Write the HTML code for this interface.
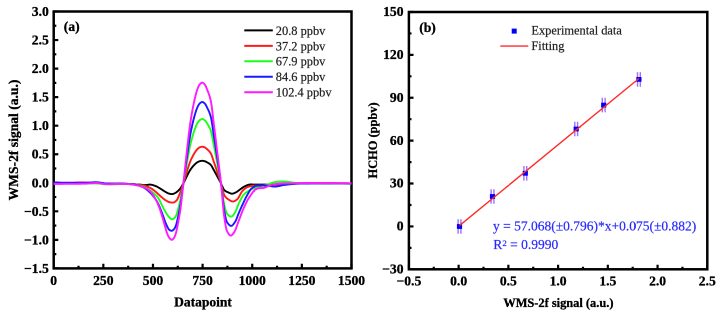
<!DOCTYPE html>
<html><head><meta charset="utf-8"><style>
html,body{margin:0;padding:0;background:#fff;overflow:hidden;}
svg{display:block;}
#c{width:720px;height:314px;overflow:hidden;position:relative;}
#w{width:1440px;height:628px;transform-origin:0 0;transform:scale(0.5);will-change:transform;}
</style></head><body>
<div id="c"><div id="w"><svg width="1440" height="628" viewBox="0 0 720 314">
<rect x="53.7" y="11.5" width="297.8" height="256.9" fill="none" stroke="#000" stroke-width="2.5"/>
<rect x="408.9" y="12.0" width="298.4" height="257.3" fill="none" stroke="#000" stroke-width="2.5"/>
<path d="M53.70,268.4 V263.80 M78.52,268.4 V265.80 M103.33,268.4 V263.80 M128.15,268.4 V265.80 M152.97,268.4 V263.80 M177.78,268.4 V265.80 M202.60,268.4 V263.80 M227.42,268.4 V265.80 M252.23,268.4 V263.80 M277.05,268.4 V265.80 M301.87,268.4 V263.80 M326.68,268.4 V265.80 M351.50,268.4 V263.80 M53.7,268.40 H58.30 M53.7,254.13 H56.30 M53.7,239.86 H58.30 M53.7,225.58 H56.30 M53.7,211.31 H58.30 M53.7,197.04 H56.30 M53.7,182.77 H58.30 M53.7,168.49 H56.30 M53.7,154.22 H58.30 M53.7,139.95 H56.30 M53.7,125.68 H58.30 M53.7,111.41 H56.30 M53.7,97.13 H58.30 M53.7,82.86 H56.30 M53.7,68.59 H58.30 M53.7,54.32 H56.30 M53.7,40.04 H58.30 M53.7,25.77 H56.30 M53.7,11.50 H58.30 M408.90,269.3 V264.70 M433.77,269.3 V266.70 M458.63,269.3 V264.70 M483.50,269.3 V266.70 M508.37,269.3 V264.70 M533.23,269.3 V266.70 M558.10,269.3 V264.70 M582.97,269.3 V266.70 M607.83,269.3 V264.70 M632.70,269.3 V266.70 M657.57,269.3 V264.70 M682.43,269.3 V266.70 M707.30,269.3 V264.70 M408.9,269.30 H413.50 M408.9,247.86 H411.50 M408.9,226.42 H413.50 M408.9,204.97 H411.50 M408.9,183.53 H413.50 M408.9,162.09 H411.50 M408.9,140.65 H413.50 M408.9,119.21 H411.50 M408.9,97.77 H413.50 M408.9,76.33 H411.50 M408.9,54.88 H413.50 M408.9,33.44 H411.50 M408.9,12.00 H413.50" stroke="#000" stroke-width="2.2" fill="none"/>
<text x="53.70" y="285.1" font-family="Liberation Serif"  stroke="#000" stroke-width="0.3" font-weight="bold" font-size="13.6" text-anchor="middle">0</text>
<text x="103.33" y="285.1" font-family="Liberation Serif"  stroke="#000" stroke-width="0.3" font-weight="bold" font-size="13.6" text-anchor="middle">250</text>
<text x="152.97" y="285.1" font-family="Liberation Serif"  stroke="#000" stroke-width="0.3" font-weight="bold" font-size="13.6" text-anchor="middle">500</text>
<text x="202.60" y="285.1" font-family="Liberation Serif"  stroke="#000" stroke-width="0.3" font-weight="bold" font-size="13.6" text-anchor="middle">750</text>
<text x="252.23" y="285.1" font-family="Liberation Serif"  stroke="#000" stroke-width="0.3" font-weight="bold" font-size="13.6" text-anchor="middle">1000</text>
<text x="301.87" y="285.1" font-family="Liberation Serif"  stroke="#000" stroke-width="0.3" font-weight="bold" font-size="13.6" text-anchor="middle">1250</text>
<text x="351.50" y="285.1" font-family="Liberation Serif"  stroke="#000" stroke-width="0.3" font-weight="bold" font-size="13.6" text-anchor="middle">1500</text>
<text x="48.8" y="16.00" font-family="Liberation Serif"  stroke="#000" stroke-width="0.3" font-weight="bold" font-size="13.6" text-anchor="end">3.0</text>
<text x="48.8" y="44.54" font-family="Liberation Serif"  stroke="#000" stroke-width="0.3" font-weight="bold" font-size="13.6" text-anchor="end">2.5</text>
<text x="48.8" y="73.09" font-family="Liberation Serif"  stroke="#000" stroke-width="0.3" font-weight="bold" font-size="13.6" text-anchor="end">2.0</text>
<text x="48.8" y="101.63" font-family="Liberation Serif"  stroke="#000" stroke-width="0.3" font-weight="bold" font-size="13.6" text-anchor="end">1.5</text>
<text x="48.8" y="130.18" font-family="Liberation Serif"  stroke="#000" stroke-width="0.3" font-weight="bold" font-size="13.6" text-anchor="end">1.0</text>
<text x="48.8" y="158.72" font-family="Liberation Serif"  stroke="#000" stroke-width="0.3" font-weight="bold" font-size="13.6" text-anchor="end">0.5</text>
<text x="48.8" y="187.27" font-family="Liberation Serif"  stroke="#000" stroke-width="0.3" font-weight="bold" font-size="13.6" text-anchor="end">0.0</text>
<text x="48.8" y="215.81" font-family="Liberation Serif"  stroke="#000" stroke-width="0.3" font-weight="bold" font-size="13.6" text-anchor="end">−0.5</text>
<text x="48.8" y="244.36" font-family="Liberation Serif"  stroke="#000" stroke-width="0.3" font-weight="bold" font-size="13.6" text-anchor="end">−1.0</text>
<text x="48.8" y="272.90" font-family="Liberation Serif"  stroke="#000" stroke-width="0.3" font-weight="bold" font-size="13.6" text-anchor="end">−1.5</text>
<text x="408.90" y="285.5" font-family="Liberation Serif"  stroke="#000" stroke-width="0.3" font-weight="bold" font-size="13.6" text-anchor="middle">−0.5</text>
<text x="458.63" y="285.5" font-family="Liberation Serif"  stroke="#000" stroke-width="0.3" font-weight="bold" font-size="13.6" text-anchor="middle">0.0</text>
<text x="508.37" y="285.5" font-family="Liberation Serif"  stroke="#000" stroke-width="0.3" font-weight="bold" font-size="13.6" text-anchor="middle">0.5</text>
<text x="558.10" y="285.5" font-family="Liberation Serif"  stroke="#000" stroke-width="0.3" font-weight="bold" font-size="13.6" text-anchor="middle">1.0</text>
<text x="607.83" y="285.5" font-family="Liberation Serif"  stroke="#000" stroke-width="0.3" font-weight="bold" font-size="13.6" text-anchor="middle">1.5</text>
<text x="657.57" y="285.5" font-family="Liberation Serif"  stroke="#000" stroke-width="0.3" font-weight="bold" font-size="13.6" text-anchor="middle">2.0</text>
<text x="707.30" y="285.5" font-family="Liberation Serif"  stroke="#000" stroke-width="0.3" font-weight="bold" font-size="13.6" text-anchor="middle">2.5</text>
<text x="403.5" y="16.10" font-family="Liberation Serif"  stroke="#000" stroke-width="0.3" font-weight="bold" font-size="13.6" text-anchor="end">150</text>
<text x="403.5" y="58.98" font-family="Liberation Serif"  stroke="#000" stroke-width="0.3" font-weight="bold" font-size="13.6" text-anchor="end">120</text>
<text x="403.5" y="101.87" font-family="Liberation Serif"  stroke="#000" stroke-width="0.3" font-weight="bold" font-size="13.6" text-anchor="end">90</text>
<text x="403.5" y="144.75" font-family="Liberation Serif"  stroke="#000" stroke-width="0.3" font-weight="bold" font-size="13.6" text-anchor="end">60</text>
<text x="403.5" y="187.63" font-family="Liberation Serif"  stroke="#000" stroke-width="0.3" font-weight="bold" font-size="13.6" text-anchor="end">30</text>
<text x="403.5" y="230.52" font-family="Liberation Serif"  stroke="#000" stroke-width="0.3" font-weight="bold" font-size="13.6" text-anchor="end">0</text>
<text x="403.5" y="273.40" font-family="Liberation Serif"  stroke="#000" stroke-width="0.3" font-weight="bold" font-size="13.6" text-anchor="end">−30</text>
<text x="203" y="306.7" font-family="Liberation Serif"  stroke="#000" stroke-width="0.3" font-weight="bold" font-size="13.5" text-anchor="middle">Datapoint</text>
<text transform="translate(17.8,140.0) rotate(-90)" font-family="Liberation Serif"  stroke="#000" stroke-width="0.3" font-weight="bold" font-size="13.6" text-anchor="middle">WMS-2f signal (a.u.)</text>
<text x="558.4" y="306.9" font-family="Liberation Serif"  stroke="#000" stroke-width="0.3" font-weight="bold" font-size="12.4" text-anchor="middle">WMS-2f signal (a.u.)</text>
<text transform="translate(377.1,140.4) rotate(-90)" font-family="Liberation Serif"  stroke="#000" stroke-width="0.3" font-weight="bold" font-size="12.4" text-anchor="middle">HCHO (ppbv)</text>
<text x="63.8" y="31.2" font-family="Liberation Serif"  stroke="#000" stroke-width="0.3" font-weight="bold" font-size="13.6">(a)</text>
<text x="419.2" y="31.8" font-family="Liberation Serif"  stroke="#000" stroke-width="0.3" font-weight="bold" font-size="13.6">(b)</text>
<path d="M244.3,30.40 H272.8" stroke="#000000" stroke-width="2"/>
<text x="275.8" y="34.80" font-family="Liberation Serif"  font-size="12.4" fill="#222" stroke="#222" stroke-width="0.2">20.8 ppbv</text>
<path d="M244.3,45.85 H272.8" stroke="#ff1a1a" stroke-width="2"/>
<text x="275.8" y="50.25" font-family="Liberation Serif"  font-size="12.4" fill="#222" stroke="#222" stroke-width="0.2">37.2 ppbv</text>
<path d="M244.3,61.30 H272.8" stroke="#1aff1a" stroke-width="2"/>
<text x="275.8" y="65.70" font-family="Liberation Serif"  font-size="12.4" fill="#222" stroke="#222" stroke-width="0.2">67.9 ppbv</text>
<path d="M244.3,76.75 H272.8" stroke="#1a1aff" stroke-width="2"/>
<text x="275.8" y="81.15" font-family="Liberation Serif"  font-size="12.4" fill="#222" stroke="#222" stroke-width="0.2">84.6 ppbv</text>
<path d="M244.3,92.20 H272.8" stroke="#ff1aff" stroke-width="2"/>
<text x="275.8" y="96.60" font-family="Liberation Serif"  font-size="12.4" fill="#222" stroke="#222" stroke-width="0.2">102.4 ppbv</text>
<path d="M53.7,183.50 L55.2,183.49 L56.6,183.48 L58.1,183.47 L59.6,183.46 L61.0,183.44 L62.5,183.43 L63.9,183.42 L65.4,183.40 L66.9,183.39 L68.3,183.37 L69.8,183.36 L71.3,183.34 L72.7,183.33 L74.2,183.31 L75.6,183.29 L77.1,183.27 L78.6,183.25 L80.0,183.22 L81.5,183.19 L83.0,183.16 L84.4,183.13 L85.9,183.10 L87.3,183.08 L88.8,183.05 L90.3,183.03 L91.7,183.02 L93.2,183.01 L94.7,183.00 L96.1,183.01 L97.6,183.04 L99.0,183.09 L100.5,183.16 L102.0,183.23 L103.4,183.31 L104.9,183.39 L106.4,183.47 L107.8,183.53 L109.3,183.58 L110.7,183.61 L112.2,183.64 L113.7,183.66 L115.1,183.67 L116.6,183.69 L118.1,183.70 L119.5,183.72 L121.0,183.73 L122.4,183.75 L123.9,183.78 L125.4,183.81 L126.8,183.85 L128.3,183.90 L129.8,183.96 L131.2,184.03 L132.7,184.11 L134.1,184.20 L135.6,184.29 L137.1,184.39 L138.5,184.49 L140.0,184.60 L140.5,184.64 L141.0,184.70 L141.5,184.76 L142.0,184.83 L142.5,184.90 L143.0,184.96 L143.5,185.02 L144.0,185.06 L144.5,185.09 L145.0,185.10 L145.5,185.09 L146.0,185.05 L146.5,184.99 L147.0,184.92 L147.5,184.85 L148.0,184.78 L148.5,184.71 L149.0,184.65 L149.5,184.61 L150.0,184.60 L150.5,184.62 L151.0,184.67 L151.5,184.76 L152.0,184.86 L152.5,184.99 L153.0,185.14 L153.5,185.30 L154.0,185.47 L154.5,185.63 L155.0,185.80 L155.5,185.98 L156.0,186.19 L156.5,186.42 L157.0,186.68 L157.5,186.95 L158.0,187.23 L158.5,187.52 L159.0,187.81 L159.5,188.11 L160.0,188.40 L160.5,188.70 L161.0,189.01 L161.5,189.33 L162.0,189.67 L162.5,190.00 L163.0,190.34 L163.5,190.67 L164.0,191.00 L164.5,191.31 L165.0,191.60 L165.5,191.89 L166.0,192.19 L166.5,192.48 L167.0,192.76 L167.5,193.01 L168.0,193.23 L168.5,193.40 L169.0,193.54 L169.5,193.68 L170.0,193.81 L170.5,193.92 L171.0,194.01 L171.5,194.07 L172.0,194.10 L172.5,194.07 L173.0,193.97 L173.5,193.80 L174.0,193.58 L174.5,193.33 L175.0,193.07 L175.5,192.80 L176.0,192.52 L176.5,192.19 L177.0,191.81 L177.5,191.40 L178.0,190.95 L178.5,190.47 L179.0,189.96 L179.5,189.43 L180.0,188.85 L180.5,188.20 L181.0,187.48 L181.5,186.70 L182.0,185.87 L182.5,185.00 L183.0,184.12 L183.5,183.22 L184.0,182.26 L184.5,181.23 L185.0,180.16 L185.5,179.07 L186.0,177.98 L186.5,176.92 L187.0,175.91 L187.5,174.93 L188.0,173.95 L188.5,172.98 L189.0,172.04 L189.5,171.15 L190.0,170.32 L190.5,169.56 L191.0,168.85 L191.5,168.16 L192.0,167.51 L192.5,166.89 L193.0,166.30 L193.5,165.74 L194.0,165.21 L194.5,164.70 L195.0,164.21 L195.5,163.75 L196.0,163.30 L196.5,162.90 L197.0,162.54 L197.5,162.23 L198.0,161.93 L198.5,161.67 L199.0,161.44 L199.5,161.26 L200.0,161.13 L200.5,161.02 L201.0,160.92 L201.5,160.84 L202.0,160.80 L202.5,160.81 L203.0,160.86 L203.5,160.94 L204.0,161.04 L204.5,161.16 L205.0,161.29 L205.5,161.49 L206.0,161.73 L206.5,162.01 L207.0,162.29 L207.5,162.57 L208.0,162.85 L208.5,163.14 L209.0,163.45 L209.5,163.80 L210.0,164.18 L210.5,164.61 L211.0,165.12 L211.5,165.81 L212.0,166.64 L212.5,167.58 L213.0,168.55 L213.5,169.50 L214.0,170.39 L214.5,171.29 L215.0,172.21 L215.5,173.13 L216.0,174.05 L216.5,174.98 L217.0,175.91 L217.5,176.84 L218.0,177.76 L218.5,178.68 L219.0,179.61 L219.5,180.55 L220.0,181.49 L220.5,182.44 L221.0,183.40 L221.5,184.45 L222.0,185.61 L222.5,186.80 L223.0,187.94 L223.5,188.95 L224.0,189.77 L224.5,190.31 L225.0,190.71 L225.5,191.06 L226.0,191.36 L226.5,191.63 L227.0,191.86 L227.5,192.08 L228.0,192.29 L228.5,192.50 L229.0,192.72 L229.5,192.95 L230.0,193.18 L230.5,193.38 L231.0,193.55 L231.5,193.66 L232.0,193.70 L232.5,193.67 L233.0,193.57 L233.5,193.42 L234.0,193.23 L234.5,193.02 L235.0,192.78 L235.5,192.54 L236.0,192.30 L236.5,192.04 L237.0,191.73 L237.5,191.38 L238.0,191.01 L238.5,190.62 L239.0,190.23 L239.5,189.86 L240.0,189.50 L240.5,189.15 L241.0,188.79 L241.5,188.43 L242.0,188.06 L242.5,187.70 L243.0,187.35 L243.5,187.02 L244.0,186.72 L244.5,186.44 L245.0,186.20 L245.5,185.97 L246.0,185.74 L246.5,185.51 L247.0,185.29 L247.5,185.09 L248.0,184.90 L248.5,184.74 L249.0,184.62 L249.5,184.54 L250.0,184.50 L250.5,184.50 L251.0,184.50 L251.5,184.51 L252.0,184.51 L252.5,184.51 L253.0,184.52 L253.5,184.53 L254.0,184.53 L254.5,184.54 L255.0,184.55 L255.5,184.56 L256.0,184.56 L256.5,184.57 L257.0,184.58 L257.5,184.58 L258.0,184.59 L258.5,184.59 L259.0,184.60 L259.5,184.60 L260.0,184.60 L260.5,184.60 L261.0,184.60 L261.5,184.60 L262.0,184.60 L262.5,184.60 L263.0,184.60 L263.5,184.60 L264.0,184.60 L264.5,184.60 L265.0,184.60 L265.5,184.60 L266.0,184.60 L266.5,184.60 L267.0,184.60 L267.5,184.60 L268.0,184.60 L268.5,184.60 L269.0,184.60 L269.5,184.60 L270.0,184.60 L270.5,184.60 L271.0,184.59 L271.5,184.58 L272.0,184.57 L272.5,184.55 L273.0,184.53 L273.5,184.50 L274.0,184.48 L274.5,184.45 L275.0,184.41 L275.5,184.38 L276.0,184.34 L276.5,184.31 L277.0,184.27 L277.5,184.23 L278.0,184.19 L278.5,184.15 L279.0,184.11 L279.5,184.07 L280.0,184.03 L280.5,183.99 L281.0,183.95 L281.5,183.91 L282.0,183.88 L282.5,183.84 L283.0,183.81 L283.5,183.78 L284.0,183.75 L284.5,183.72 L285.0,183.70 L285.5,183.68 L286.0,183.66 L286.5,183.63 L287.0,183.61 L287.5,183.59 L288.0,183.57 L288.5,183.54 L289.0,183.52 L289.5,183.50 L290.0,183.48 L291.0,183.43 L292.6,183.37 L294.1,183.31 L295.7,183.26 L297.2,183.23 L298.8,183.21 L300.3,183.20 L301.9,183.20 L303.4,183.20 L305.0,183.20 L306.5,183.21 L308.1,183.21 L309.6,183.22 L311.2,183.22 L312.7,183.23 L314.3,183.23 L315.8,183.24 L317.4,183.25 L318.9,183.25 L320.5,183.26 L322.0,183.27 L323.6,183.27 L325.1,183.28 L326.7,183.29 L328.2,183.29 L329.8,183.30 L331.3,183.31 L332.9,183.31 L334.4,183.32 L336.0,183.32 L337.5,183.33 L339.1,183.34 L340.6,183.35 L342.2,183.35 L343.7,183.36 L345.3,183.37 L346.8,183.38 L348.4,183.38 L349.9,183.39 L351.5,183.40" stroke="#000000" stroke-width="1.9" fill="none" stroke-linejoin="round"/>
<path d="M53.7,183.60 L55.2,183.60 L56.6,183.58 L58.1,183.56 L59.6,183.54 L61.0,183.50 L62.5,183.46 L63.9,183.42 L65.4,183.37 L66.9,183.32 L68.3,183.26 L69.8,183.21 L71.3,183.13 L72.7,183.00 L74.2,182.84 L75.6,182.68 L77.1,182.54 L78.6,182.44 L80.0,182.40 L81.5,182.41 L83.0,182.44 L84.4,182.49 L85.9,182.54 L87.3,182.61 L88.8,182.69 L90.3,182.76 L91.7,182.84 L93.2,182.92 L94.7,182.98 L96.1,183.05 L97.6,183.12 L99.0,183.20 L100.5,183.28 L102.0,183.36 L103.4,183.44 L104.9,183.52 L106.4,183.58 L107.8,183.64 L109.3,183.68 L110.7,183.71 L112.2,183.74 L113.7,183.76 L115.1,183.78 L116.6,183.79 L118.1,183.81 L119.5,183.82 L121.0,183.84 L122.4,183.86 L123.9,183.88 L125.4,183.91 L126.8,183.94 L128.3,183.99 L129.8,184.04 L131.2,184.10 L132.7,184.17 L134.1,184.25 L135.6,184.34 L137.1,184.48 L138.5,184.65 L140.0,184.86 L140.5,184.94 L141.0,185.03 L141.5,185.12 L142.0,185.21 L142.5,185.30 L143.0,185.40 L143.5,185.51 L144.0,185.62 L144.5,185.75 L145.0,185.89 L145.5,186.04 L146.0,186.20 L146.5,186.37 L147.0,186.55 L147.5,186.73 L148.0,186.93 L148.5,187.14 L149.0,187.35 L149.5,187.57 L150.0,187.80 L150.5,188.05 L151.0,188.33 L151.5,188.63 L152.0,188.96 L152.5,189.31 L153.0,189.67 L153.5,190.04 L154.0,190.42 L154.5,190.81 L155.0,191.20 L155.5,191.60 L156.0,192.03 L156.5,192.48 L157.0,192.94 L157.5,193.41 L158.0,193.89 L158.5,194.37 L159.0,194.84 L159.5,195.30 L160.0,195.74 L160.5,196.17 L161.0,196.60 L161.5,197.03 L162.0,197.46 L162.5,197.89 L163.0,198.31 L163.5,198.72 L164.0,199.11 L164.5,199.49 L165.0,199.85 L165.5,200.19 L166.0,200.50 L166.5,200.80 L167.0,201.10 L167.5,201.39 L168.0,201.66 L168.5,201.89 L169.0,202.07 L169.5,202.20 L170.0,202.29 L170.5,202.37 L171.0,202.45 L171.5,202.51 L172.0,202.56 L172.5,202.59 L173.0,202.60 L173.5,202.54 L174.0,202.38 L174.5,202.12 L175.0,201.79 L175.5,201.40 L176.0,200.96 L176.5,200.50 L177.0,199.88 L177.5,199.02 L178.0,197.97 L178.5,196.79 L179.0,195.54 L179.5,194.30 L180.0,193.09 L180.5,191.81 L181.0,190.47 L181.5,189.07 L182.0,187.62 L182.5,186.14 L183.0,184.62 L183.5,183.09 L184.0,181.48 L184.5,179.80 L185.0,178.06 L185.5,176.31 L186.0,174.57 L186.5,172.87 L187.0,171.24 L187.5,169.65 L188.0,168.05 L188.5,166.48 L189.0,164.96 L189.5,163.51 L190.0,162.16 L190.5,160.93 L191.0,159.77 L191.5,158.66 L192.0,157.60 L192.5,156.59 L193.0,155.63 L193.5,154.72 L194.0,153.86 L194.5,153.04 L195.0,152.24 L195.5,151.48 L196.0,150.77 L196.5,150.11 L197.0,149.52 L197.5,149.02 L198.0,148.54 L198.5,148.11 L199.0,147.73 L199.5,147.44 L200.0,147.24 L200.5,147.05 L201.0,146.89 L201.5,146.77 L202.0,146.71 L202.5,146.71 L203.0,146.79 L203.5,146.92 L204.0,147.09 L204.5,147.28 L205.0,147.50 L205.5,147.82 L206.0,148.22 L206.5,148.66 L207.0,149.12 L207.5,149.57 L208.0,150.03 L208.5,150.50 L209.0,151.01 L209.5,151.56 L210.0,152.19 L210.5,152.89 L211.0,153.72 L211.5,154.83 L212.0,156.19 L212.5,157.71 L213.0,159.28 L213.5,160.82 L214.0,162.28 L214.5,163.74 L215.0,165.22 L215.5,166.72 L216.0,168.22 L216.5,169.73 L217.0,171.24 L217.5,172.73 L218.0,174.22 L218.5,175.70 L219.0,177.19 L219.5,178.69 L220.0,180.22 L220.5,181.79 L221.0,183.40 L221.5,185.19 L222.0,187.20 L222.5,189.29 L223.0,191.31 L223.5,193.12 L224.0,194.58 L224.5,195.55 L225.0,196.28 L225.5,196.92 L226.0,197.49 L226.5,197.99 L227.0,198.43 L227.5,198.82 L228.0,199.17 L228.5,199.50 L229.0,199.82 L229.5,200.14 L230.0,200.45 L230.5,200.74 L231.0,201.00 L231.5,201.21 L232.0,201.38 L232.5,201.47 L233.0,201.50 L233.5,201.44 L234.0,201.30 L234.5,201.10 L235.0,200.85 L235.5,200.55 L236.0,200.21 L236.5,199.86 L237.0,199.50 L237.5,199.04 L238.0,198.42 L238.5,197.67 L239.0,196.83 L239.5,195.92 L240.0,194.98 L240.5,194.04 L241.0,193.14 L241.5,192.31 L242.0,191.58 L242.5,190.97 L243.0,190.41 L243.5,189.89 L244.0,189.41 L244.5,188.98 L245.0,188.60 L245.5,188.26 L246.0,187.94 L246.5,187.64 L247.0,187.37 L247.5,187.12 L248.0,186.91 L248.5,186.73 L249.0,186.58 L249.5,186.44 L250.0,186.30 L250.5,186.17 L251.0,186.06 L251.5,185.95 L252.0,185.85 L252.5,185.77 L253.0,185.70 L253.5,185.64 L254.0,185.60 L254.5,185.57 L255.0,185.54 L255.5,185.51 L256.0,185.49 L256.5,185.47 L257.0,185.45 L257.5,185.43 L258.0,185.41 L258.5,185.40 L259.0,185.38 L259.5,185.37 L260.0,185.36 L260.5,185.35 L261.0,185.33 L261.5,185.32 L262.0,185.31 L262.5,185.29 L263.0,185.28 L263.5,185.26 L264.0,185.24 L264.5,185.22 L265.0,185.20 L265.5,185.18 L266.0,185.15 L266.5,185.12 L267.0,185.09 L267.5,185.06 L268.0,185.03 L268.5,185.00 L269.0,184.96 L269.5,184.93 L270.0,184.89 L270.5,184.86 L271.0,184.82 L271.5,184.78 L272.0,184.75 L272.5,184.71 L273.0,184.67 L273.5,184.63 L274.0,184.59 L274.5,184.56 L275.0,184.52 L275.5,184.48 L276.0,184.45 L276.5,184.41 L277.0,184.38 L277.5,184.35 L278.0,184.31 L278.5,184.28 L279.0,184.25 L279.5,184.23 L280.0,184.20 L280.5,184.17 L281.0,184.15 L281.5,184.12 L282.0,184.10 L282.5,184.07 L283.0,184.05 L283.5,184.02 L284.0,183.99 L284.5,183.97 L285.0,183.94 L285.5,183.92 L286.0,183.89 L286.5,183.87 L287.0,183.84 L287.5,183.82 L288.0,183.80 L288.5,183.77 L289.0,183.75 L289.5,183.73 L290.0,183.70 L291.0,183.66 L292.6,183.60 L294.1,183.54 L295.7,183.49 L297.2,183.45 L298.8,183.42 L300.3,183.40 L301.9,183.38 L303.4,183.36 L305.0,183.34 L306.5,183.33 L308.1,183.31 L309.6,183.30 L311.2,183.28 L312.7,183.27 L314.3,183.26 L315.8,183.25 L317.4,183.24 L318.9,183.23 L320.5,183.22 L322.0,183.22 L323.6,183.21 L325.1,183.21 L326.7,183.20 L328.2,183.20 L329.8,183.20 L331.3,183.20 L332.9,183.21 L334.4,183.22 L336.0,183.23 L337.5,183.25 L339.1,183.27 L340.6,183.29 L342.2,183.31 L343.7,183.34 L345.3,183.37 L346.8,183.40 L348.4,183.43 L349.9,183.47 L351.5,183.50" stroke="#ff1a1a" stroke-width="1.9" fill="none" stroke-linejoin="round"/>
<path d="M53.7,183.00 L55.2,183.04 L56.6,183.07 L58.1,183.10 L59.6,183.14 L61.0,183.17 L62.5,183.20 L63.9,183.22 L65.4,183.25 L66.9,183.27 L68.3,183.29 L69.8,183.30 L71.3,183.31 L72.7,183.32 L74.2,183.32 L75.6,183.33 L77.1,183.33 L78.6,183.34 L80.0,183.34 L81.5,183.34 L83.0,183.35 L84.4,183.35 L85.9,183.35 L87.3,183.36 L88.8,183.36 L90.3,183.37 L91.7,183.38 L93.2,183.39 L94.7,183.40 L96.1,183.42 L97.6,183.49 L99.0,183.60 L100.5,183.72 L102.0,183.86 L103.4,184.01 L104.9,184.14 L106.4,184.26 L107.8,184.34 L109.3,184.39 L110.7,184.40 L112.2,184.37 L113.7,184.32 L115.1,184.26 L116.6,184.19 L118.1,184.12 L119.5,184.05 L121.0,183.99 L122.4,183.94 L123.9,183.91 L125.4,183.90 L126.8,183.93 L128.3,183.98 L129.8,184.06 L131.2,184.16 L132.7,184.28 L134.1,184.42 L135.6,184.57 L137.1,184.81 L138.5,185.13 L140.0,185.53 L140.5,185.67 L141.0,185.83 L141.5,185.99 L142.0,186.16 L142.5,186.33 L143.0,186.50 L143.5,186.69 L144.0,186.89 L144.5,187.12 L145.0,187.37 L145.5,187.63 L146.0,187.91 L146.5,188.20 L147.0,188.51 L147.5,188.82 L148.0,189.14 L148.5,189.48 L149.0,189.81 L149.5,190.16 L150.0,190.50 L150.5,190.85 L151.0,191.20 L151.5,191.56 L152.0,191.93 L152.5,192.30 L153.0,192.69 L153.5,193.10 L154.0,193.52 L154.5,193.96 L155.0,194.41 L155.5,194.89 L156.0,195.39 L156.5,195.92 L157.0,196.48 L157.5,197.06 L158.0,197.69 L158.5,198.42 L159.0,199.26 L159.5,200.17 L160.0,201.14 L160.5,202.17 L161.0,203.23 L161.5,204.30 L162.0,205.37 L162.5,206.43 L163.0,207.45 L163.5,208.42 L164.0,209.33 L164.5,210.19 L165.0,211.06 L165.5,211.92 L166.0,212.78 L166.5,213.61 L167.0,214.39 L167.5,215.13 L168.0,215.80 L168.5,216.39 L169.0,216.94 L169.5,217.50 L170.0,218.05 L170.5,218.54 L171.0,218.94 L171.5,219.20 L172.0,219.30 L172.5,219.23 L173.0,219.05 L173.5,218.76 L174.0,218.39 L174.5,217.97 L175.0,217.50 L175.5,216.84 L176.0,215.86 L176.5,214.60 L177.0,213.11 L177.5,211.42 L178.0,209.59 L178.5,207.66 L179.0,205.67 L179.5,203.67 L180.0,201.64 L180.5,199.35 L181.0,196.85 L181.5,194.17 L182.0,191.37 L182.5,188.52 L183.0,185.66 L183.5,182.84 L184.0,179.96 L184.5,176.98 L185.0,173.94 L185.5,170.89 L186.0,167.86 L186.5,164.91 L187.0,162.06 L187.5,159.27 L188.0,156.47 L188.5,153.71 L189.0,151.04 L189.5,148.49 L190.0,146.13 L190.5,143.97 L191.0,141.93 L191.5,139.99 L192.0,138.13 L192.5,136.36 L193.0,134.68 L193.5,133.08 L194.0,131.56 L194.5,130.12 L195.0,128.73 L195.5,127.39 L196.0,126.14 L196.5,124.98 L197.0,123.95 L197.5,123.07 L198.0,122.23 L198.5,121.47 L199.0,120.81 L199.5,120.30 L200.0,119.94 L200.5,119.62 L201.0,119.33 L201.5,119.12 L202.0,119.01 L202.5,119.02 L203.0,119.16 L203.5,119.39 L204.0,119.68 L204.5,120.01 L205.0,120.40 L205.5,120.96 L206.0,121.66 L206.5,122.44 L207.0,123.25 L207.5,124.04 L208.0,124.84 L208.5,125.67 L209.0,126.56 L209.5,127.54 L210.0,128.63 L210.5,129.87 L211.0,131.31 L211.5,133.27 L212.0,135.65 L212.5,138.31 L213.0,141.08 L213.5,143.78 L214.0,146.33 L214.5,148.90 L215.0,151.50 L215.5,154.13 L216.0,156.77 L216.5,159.42 L217.0,162.06 L217.5,164.68 L218.0,167.27 L218.5,169.84 L219.0,172.44 L219.5,175.07 L220.0,177.76 L220.5,180.53 L221.0,183.40 L221.5,186.56 L222.0,190.04 L222.5,193.66 L223.0,197.24 L223.5,200.58 L224.0,203.50 L224.5,205.83 L225.0,207.89 L225.5,209.81 L226.0,211.48 L226.5,212.81 L227.0,213.67 L227.5,214.26 L228.0,214.79 L228.5,215.27 L229.0,215.69 L229.5,216.04 L230.0,216.31 L230.5,216.50 L231.0,216.59 L231.5,216.56 L232.0,216.33 L232.5,215.92 L233.0,215.38 L233.5,214.73 L234.0,214.01 L234.5,213.25 L235.0,212.50 L235.5,211.63 L236.0,210.54 L236.5,209.30 L237.0,207.97 L237.5,206.62 L238.0,205.29 L238.5,204.07 L239.0,203.00 L239.5,201.99 L240.0,200.98 L240.5,199.99 L241.0,199.02 L241.5,198.09 L242.0,197.21 L242.5,196.39 L243.0,195.64 L243.5,194.97 L244.0,194.40 L244.5,193.90 L245.0,193.44 L245.5,193.02 L246.0,192.63 L246.5,192.27 L247.0,191.93 L247.5,191.60 L248.0,191.28 L248.5,190.96 L249.0,190.65 L249.5,190.34 L250.0,190.03 L250.5,189.74 L251.0,189.45 L251.5,189.19 L252.0,188.94 L252.5,188.71 L253.0,188.50 L253.5,188.31 L254.0,188.14 L254.5,187.98 L255.0,187.83 L255.5,187.69 L256.0,187.55 L256.5,187.41 L257.0,187.28 L257.5,187.14 L258.0,187.00 L258.5,186.86 L259.0,186.71 L259.5,186.57 L260.0,186.42 L260.5,186.28 L261.0,186.14 L261.5,186.00 L262.0,185.86 L262.5,185.73 L263.0,185.60 L263.5,185.47 L264.0,185.36 L264.5,185.24 L265.0,185.13 L265.5,185.02 L266.0,184.91 L266.5,184.79 L267.0,184.67 L267.5,184.54 L268.0,184.40 L268.5,184.24 L269.0,184.07 L269.5,183.88 L270.0,183.67 L270.5,183.47 L271.0,183.27 L271.5,183.07 L272.0,182.89 L272.5,182.73 L273.0,182.60 L273.5,182.48 L274.0,182.36 L274.5,182.25 L275.0,182.14 L275.5,182.04 L276.0,181.94 L276.5,181.86 L277.0,181.79 L277.5,181.74 L278.0,181.70 L278.5,181.67 L279.0,181.65 L279.5,181.62 L280.0,181.60 L280.5,181.58 L281.0,181.56 L281.5,181.54 L282.0,181.53 L282.5,181.52 L283.0,181.51 L283.5,181.50 L284.0,181.50 L284.5,181.51 L285.0,181.52 L285.5,181.55 L286.0,181.59 L286.5,181.64 L287.0,181.69 L287.5,181.75 L288.0,181.82 L288.5,181.89 L289.0,181.97 L289.5,182.05 L290.0,182.13 L291.0,182.29 L292.6,182.52 L294.1,182.72 L295.7,182.85 L297.2,182.97 L298.8,183.08 L300.3,183.20 L301.9,183.30 L303.4,183.39 L305.0,183.47 L306.5,183.54 L308.1,183.58 L309.6,183.60 L311.2,183.60 L312.7,183.59 L314.3,183.58 L315.8,183.56 L317.4,183.54 L318.9,183.52 L320.5,183.49 L322.0,183.47 L323.6,183.45 L325.1,183.43 L326.7,183.41 L328.2,183.40 L329.8,183.40 L331.3,183.40 L332.9,183.41 L334.4,183.42 L336.0,183.44 L337.5,183.46 L339.1,183.48 L340.6,183.51 L342.2,183.54 L343.7,183.58 L345.3,183.61 L346.8,183.66 L348.4,183.70 L349.9,183.75 L351.5,183.80" stroke="#1aff1a" stroke-width="1.9" fill="none" stroke-linejoin="round"/>
<path d="M53.7,182.60 L55.2,182.61 L56.6,182.62 L58.1,182.63 L59.6,182.63 L61.0,182.64 L62.5,182.65 L63.9,182.66 L65.4,182.67 L66.9,182.68 L68.3,182.69 L69.8,182.70 L71.3,182.71 L72.7,182.72 L74.2,182.73 L75.6,182.75 L77.1,182.76 L78.6,182.77 L80.0,182.78 L81.5,182.79 L83.0,182.80 L84.4,182.80 L85.9,182.79 L87.3,182.73 L88.8,182.63 L90.3,182.52 L91.7,182.40 L93.2,182.30 L94.7,182.22 L96.1,182.20 L97.6,182.28 L99.0,182.46 L100.5,182.71 L102.0,182.99 L103.4,183.25 L104.9,183.47 L106.4,183.59 L107.8,183.60 L109.3,183.59 L110.7,183.58 L112.2,183.56 L113.7,183.55 L115.1,183.53 L116.6,183.52 L118.1,183.51 L119.5,183.50 L121.0,183.51 L122.4,183.55 L123.9,183.62 L125.4,183.72 L126.8,183.82 L128.3,183.92 L129.8,184.04 L131.2,184.18 L132.7,184.34 L134.1,184.53 L135.6,184.75 L137.1,185.01 L138.5,185.38 L140.0,185.87 L140.5,186.07 L141.0,186.28 L141.5,186.50 L142.0,186.72 L142.5,186.96 L143.0,187.20 L143.5,187.46 L144.0,187.74 L144.5,188.04 L145.0,188.36 L145.5,188.70 L146.0,189.07 L146.5,189.44 L147.0,189.84 L147.5,190.25 L148.0,190.68 L148.5,191.12 L149.0,191.57 L149.5,192.03 L150.0,192.50 L150.5,192.99 L151.0,193.49 L151.5,194.02 L152.0,194.57 L152.5,195.15 L153.0,195.74 L153.5,196.37 L154.0,197.02 L154.5,197.69 L155.0,198.39 L155.5,199.13 L156.0,199.89 L156.5,200.68 L157.0,201.50 L157.5,202.39 L158.0,203.37 L158.5,204.44 L159.0,205.57 L159.5,206.75 L160.0,207.98 L160.5,209.23 L161.0,210.49 L161.5,211.75 L162.0,213.00 L162.5,214.29 L163.0,215.66 L163.5,217.09 L164.0,218.53 L164.5,219.97 L165.0,221.37 L165.5,222.69 L166.0,223.91 L166.5,225.00 L167.0,226.03 L167.5,227.07 L168.0,228.04 L168.5,228.90 L169.0,229.57 L169.5,230.00 L170.0,230.28 L170.5,230.52 L171.0,230.70 L171.5,230.79 L172.0,230.76 L172.5,230.55 L173.0,230.18 L173.5,229.69 L174.0,229.12 L174.5,228.50 L175.0,227.69 L175.5,226.57 L176.0,225.15 L176.5,223.48 L177.0,221.60 L177.5,219.52 L178.0,217.31 L178.5,214.97 L179.0,212.56 L179.5,210.10 L180.0,207.55 L180.5,204.58 L181.0,201.26 L181.5,197.68 L182.0,193.94 L182.5,190.12 L183.0,186.34 L183.5,182.68 L184.0,178.98 L184.5,175.20 L185.0,171.36 L185.5,167.53 L186.0,163.73 L186.5,160.01 L187.0,156.43 L187.5,152.90 L188.0,149.36 L188.5,145.87 L189.0,142.49 L189.5,139.28 L190.0,136.29 L190.5,133.56 L191.0,130.99 L191.5,128.53 L192.0,126.18 L192.5,123.94 L193.0,121.81 L193.5,119.79 L194.0,117.88 L194.5,116.06 L195.0,114.30 L195.5,112.61 L196.0,111.02 L196.5,109.56 L197.0,108.26 L197.5,107.14 L198.0,106.09 L198.5,105.12 L199.0,104.29 L199.5,103.65 L200.0,103.19 L200.5,102.78 L201.0,102.42 L201.5,102.16 L202.0,102.01 L202.5,102.03 L203.0,102.20 L203.5,102.49 L204.0,102.86 L204.5,103.28 L205.0,103.76 L205.5,104.47 L206.0,105.36 L206.5,106.35 L207.0,107.37 L207.5,108.37 L208.0,109.38 L208.5,110.43 L209.0,111.55 L209.5,112.79 L210.0,114.17 L210.5,115.74 L211.0,117.56 L211.5,120.03 L212.0,123.05 L212.5,126.41 L213.0,129.90 L213.5,133.32 L214.0,136.55 L214.5,139.79 L215.0,143.08 L215.5,146.40 L216.0,149.74 L216.5,153.09 L217.0,156.43 L217.5,159.73 L218.0,163.00 L218.5,166.25 L219.0,169.52 L219.5,172.84 L220.0,176.24 L220.5,179.75 L221.0,183.40 L221.5,187.42 L222.0,191.88 L222.5,196.51 L223.0,201.10 L223.5,205.38 L224.0,209.13 L224.5,212.11 L225.0,214.75 L225.5,217.21 L226.0,219.35 L226.5,221.05 L227.0,222.15 L227.5,222.90 L228.0,223.58 L228.5,224.20 L229.0,224.74 L229.5,225.19 L230.0,225.53 L230.5,225.77 L231.0,225.89 L231.5,225.86 L232.0,225.64 L232.5,225.26 L233.0,224.74 L233.5,224.13 L234.0,223.44 L234.5,222.72 L235.0,222.00 L235.5,221.17 L236.0,220.14 L236.5,218.96 L237.0,217.68 L237.5,216.35 L238.0,215.01 L238.5,213.71 L239.0,212.50 L239.5,211.36 L240.0,210.22 L240.5,209.10 L241.0,207.98 L241.5,206.87 L242.0,205.78 L242.5,204.69 L243.0,203.62 L243.5,202.56 L244.0,201.50 L244.5,200.43 L245.0,199.38 L245.5,198.35 L246.0,197.35 L246.5,196.40 L247.0,195.50 L247.5,194.62 L248.0,193.73 L248.5,192.85 L249.0,191.99 L249.5,191.16 L250.0,190.39 L250.5,189.69 L251.0,189.07 L251.5,188.56 L252.0,188.14 L252.5,187.76 L253.0,187.39 L253.5,187.03 L254.0,186.70 L254.5,186.40 L255.0,186.14 L255.5,185.92 L256.0,185.76 L256.5,185.65 L257.0,185.60 L257.5,185.59 L258.0,185.58 L258.5,185.57 L259.0,185.56 L259.5,185.55 L260.0,185.54 L260.5,185.54 L261.0,185.53 L261.5,185.52 L262.0,185.52 L262.5,185.51 L263.0,185.51 L263.5,185.51 L264.0,185.50 L264.5,185.50 L265.0,185.50 L265.5,185.50 L266.0,185.50 L266.5,185.51 L267.0,185.54 L267.5,185.59 L268.0,185.65 L268.5,185.72 L269.0,185.81 L269.5,185.90 L270.0,185.99 L270.5,186.09 L271.0,186.18 L271.5,186.27 L272.0,186.36 L272.5,186.44 L273.0,186.50 L273.5,186.55 L274.0,186.58 L274.5,186.60 L275.0,186.59 L275.5,186.57 L276.0,186.53 L276.5,186.47 L277.0,186.39 L277.5,186.31 L278.0,186.22 L278.5,186.11 L279.0,186.01 L279.5,185.89 L280.0,185.78 L280.5,185.66 L281.0,185.55 L281.5,185.44 L282.0,185.33 L282.5,185.24 L283.0,185.15 L283.5,185.07 L284.0,185.00 L284.5,184.94 L285.0,184.88 L285.5,184.82 L286.0,184.76 L286.5,184.70 L287.0,184.64 L287.5,184.58 L288.0,184.52 L288.5,184.47 L289.0,184.41 L289.5,184.35 L290.0,184.30 L291.0,184.19 L292.6,184.04 L294.1,183.90 L295.7,183.78 L297.2,183.69 L298.8,183.63 L300.3,183.60 L301.9,183.58 L303.4,183.56 L305.0,183.54 L306.5,183.52 L308.1,183.51 L309.6,183.49 L311.2,183.48 L312.7,183.47 L314.3,183.45 L315.8,183.44 L317.4,183.43 L318.9,183.43 L320.5,183.42 L322.0,183.41 L323.6,183.41 L325.1,183.41 L326.7,183.40 L328.2,183.40 L329.8,183.40 L331.3,183.40 L332.9,183.40 L334.4,183.41 L336.0,183.42 L337.5,183.43 L339.1,183.44 L340.6,183.46 L342.2,183.47 L343.7,183.49 L345.3,183.51 L346.8,183.53 L348.4,183.55 L349.9,183.58 L351.5,183.60" stroke="#1a1aff" stroke-width="1.9" fill="none" stroke-linejoin="round"/>
<path d="M53.7,184.00 L55.2,183.98 L56.6,183.96 L58.1,183.94 L59.6,183.92 L61.0,183.90 L62.5,183.88 L63.9,183.86 L65.4,183.85 L66.9,183.83 L68.3,183.82 L69.8,183.80 L71.3,183.79 L72.7,183.78 L74.2,183.77 L75.6,183.77 L77.1,183.76 L78.6,183.75 L80.0,183.74 L81.5,183.73 L83.0,183.72 L84.4,183.71 L85.9,183.68 L87.3,183.59 L88.8,183.46 L90.3,183.31 L91.7,183.16 L93.2,183.02 L94.7,182.93 L96.1,182.90 L97.6,182.97 L99.0,183.14 L100.5,183.38 L102.0,183.63 L103.4,183.88 L104.9,184.08 L106.4,184.19 L107.8,184.20 L109.3,184.17 L110.7,184.12 L112.2,184.06 L113.7,184.00 L115.1,183.95 L116.6,183.91 L118.1,183.90 L119.5,183.91 L121.0,183.92 L122.4,183.94 L123.9,183.98 L125.4,184.01 L126.8,184.06 L128.3,184.11 L129.8,184.22 L131.2,184.38 L132.7,184.60 L134.1,184.85 L135.6,185.13 L137.1,185.41 L138.5,185.74 L140.0,186.12 L140.5,186.26 L141.0,186.41 L141.5,186.57 L142.0,186.74 L142.5,186.91 L143.0,187.09 L143.5,187.28 L144.0,187.48 L144.5,187.69 L145.0,187.90 L145.5,188.13 L146.0,188.38 L146.5,188.65 L147.0,188.94 L147.5,189.26 L148.0,189.60 L148.5,189.96 L149.0,190.35 L149.5,190.76 L150.0,191.20 L150.5,191.68 L151.0,192.22 L151.5,192.82 L152.0,193.46 L152.5,194.16 L153.0,194.89 L153.5,195.67 L154.0,196.48 L154.5,197.32 L155.0,198.19 L155.5,199.09 L156.0,200.00 L156.5,200.97 L157.0,202.01 L157.5,203.13 L158.0,204.32 L158.5,205.56 L159.0,206.85 L159.5,208.18 L160.0,209.56 L160.5,211.02 L161.0,212.57 L161.5,214.20 L162.0,215.87 L162.5,217.57 L163.0,219.29 L163.5,220.99 L164.0,222.68 L164.5,224.47 L165.0,226.33 L165.5,228.18 L166.0,229.96 L166.5,231.59 L167.0,233.00 L167.5,234.27 L168.0,235.48 L168.5,236.56 L169.0,237.46 L169.5,238.11 L170.0,238.68 L170.5,239.18 L171.0,239.57 L171.5,239.78 L172.0,239.75 L172.5,239.49 L173.0,239.04 L173.5,238.45 L174.0,237.78 L174.5,237.01 L175.0,235.91 L175.5,234.47 L176.0,232.74 L176.5,230.74 L177.0,228.51 L177.5,226.09 L178.0,223.51 L178.5,220.80 L179.0,218.00 L179.5,215.15 L180.0,212.17 L180.5,208.69 L181.0,204.77 L181.5,200.52 L182.0,196.07 L182.5,191.51 L183.0,186.96 L183.5,182.52 L184.0,178.01 L184.5,173.34 L185.0,168.58 L185.5,163.81 L186.0,159.08 L186.5,154.45 L187.0,150.00 L187.5,145.63 L188.0,141.25 L188.5,136.93 L189.0,132.74 L189.5,128.76 L190.0,125.06 L190.5,121.68 L191.0,118.50 L191.5,115.45 L192.0,112.54 L192.5,109.77 L193.0,107.14 L193.5,104.63 L194.0,102.26 L194.5,100.01 L195.0,97.83 L195.5,95.74 L196.0,93.77 L196.5,91.96 L197.0,90.35 L197.5,88.96 L198.0,87.66 L198.5,86.46 L199.0,85.44 L199.5,84.64 L200.0,84.08 L200.5,83.57 L201.0,83.12 L201.5,82.79 L202.0,82.62 L202.5,82.64 L203.0,82.85 L203.5,83.20 L204.0,83.66 L204.5,84.18 L205.0,84.79 L205.5,85.66 L206.0,86.76 L206.5,87.99 L207.0,89.25 L207.5,90.49 L208.0,91.74 L208.5,93.03 L209.0,94.43 L209.5,95.96 L210.0,97.67 L210.5,99.61 L211.0,101.87 L211.5,104.93 L212.0,108.67 L212.5,112.83 L213.0,117.15 L213.5,121.39 L214.0,125.38 L214.5,129.40 L215.0,133.47 L215.5,137.58 L216.0,141.72 L216.5,145.86 L217.0,150.00 L217.5,154.10 L218.0,158.14 L218.5,162.18 L219.0,166.23 L219.5,170.35 L220.0,174.56 L220.5,178.90 L221.0,183.40 L221.5,188.36 L222.0,193.83 L222.5,199.53 L223.0,205.15 L223.5,210.41 L224.0,215.00 L224.5,218.66 L225.0,221.89 L225.5,224.89 L226.0,227.51 L226.5,229.59 L227.0,231.00 L227.5,231.98 L228.0,232.89 L228.5,233.70 L229.0,234.39 L229.5,234.95 L230.0,235.34 L230.5,235.56 L231.0,235.58 L231.5,235.38 L232.0,235.00 L232.5,234.48 L233.0,233.86 L233.5,233.18 L234.0,232.50 L234.5,231.72 L235.0,230.75 L235.5,229.63 L236.0,228.38 L236.5,227.04 L237.0,225.65 L237.5,224.23 L238.0,222.82 L238.5,221.45 L239.0,220.14 L239.5,218.84 L240.0,217.51 L240.5,216.17 L241.0,214.82 L241.5,213.51 L242.0,212.22 L242.5,211.00 L243.0,209.81 L243.5,208.64 L244.0,207.49 L244.5,206.36 L245.0,205.25 L245.5,204.18 L246.0,203.14 L246.5,202.14 L247.0,201.19 L247.5,200.27 L248.0,199.40 L248.5,198.55 L249.0,197.74 L249.5,196.96 L250.0,196.21 L250.5,195.50 L251.0,194.79 L251.5,194.07 L252.0,193.35 L252.5,192.65 L253.0,191.97 L253.5,191.34 L254.0,190.76 L254.5,190.25 L255.0,189.83 L255.5,189.50 L256.0,189.23 L256.5,188.98 L257.0,188.75 L257.5,188.55 L258.0,188.39 L258.5,188.27 L259.0,188.20 L259.5,188.16 L260.0,188.14 L260.5,188.12 L261.0,188.10 L261.5,188.08 L262.0,188.07 L262.5,188.04 L263.0,188.01 L263.5,187.95 L264.0,187.84 L264.5,187.69 L265.0,187.51 L265.5,187.30 L266.0,187.08 L266.5,186.85 L267.0,186.62 L267.5,186.39 L268.0,186.18 L268.5,186.00 L269.0,185.83 L269.5,185.66 L270.0,185.49 L270.5,185.32 L271.0,185.16 L271.5,185.00 L272.0,184.86 L272.5,184.72 L273.0,184.60 L273.5,184.48 L274.0,184.37 L274.5,184.26 L275.0,184.15 L275.5,184.04 L276.0,183.95 L276.5,183.86 L277.0,183.79 L277.5,183.74 L278.0,183.70 L278.5,183.67 L279.0,183.65 L279.5,183.63 L280.0,183.61 L280.5,183.59 L281.0,183.58 L281.5,183.56 L282.0,183.55 L282.5,183.54 L283.0,183.52 L283.5,183.51 L284.0,183.50 L284.5,183.49 L285.0,183.47 L285.5,183.46 L286.0,183.45 L286.5,183.43 L287.0,183.42 L287.5,183.41 L288.0,183.39 L288.5,183.38 L289.0,183.37 L289.5,183.35 L290.0,183.34 L291.0,183.31 L292.6,183.27 L294.1,183.23 L295.7,183.20 L297.2,183.16 L298.8,183.13 L300.3,183.10 L301.9,183.07 L303.4,183.05 L305.0,183.03 L306.5,183.01 L308.1,183.00 L309.6,183.00 L311.2,183.00 L312.7,183.00 L314.3,183.01 L315.8,183.01 L317.4,183.02 L318.9,183.03 L320.5,183.04 L322.0,183.05 L323.6,183.06 L325.1,183.07 L326.7,183.08 L328.2,183.09 L329.8,183.10 L331.3,183.11 L332.9,183.12 L334.4,183.13 L336.0,183.14 L337.5,183.16 L339.1,183.17 L340.6,183.19 L342.2,183.20 L343.7,183.22 L345.3,183.23 L346.8,183.25 L348.4,183.26 L349.9,183.28 L351.5,183.30" stroke="#ff1aff" stroke-width="1.9" fill="none" stroke-linejoin="round"/>
<rect x="511.7" y="28.6" width="5" height="5" fill="#0000ff"/>
<text x="531.4" y="34.6" font-family="Liberation Serif"  font-size="12.4" fill="#222" stroke="#222" stroke-width="0.2">Experimental data</text>
<path d="M500.3,46.1 H528.3" stroke="#ff2a2a" stroke-width="1.4"/>
<text x="531.4" y="50.0" font-family="Liberation Serif"  font-size="12.4" fill="#222" stroke="#222" stroke-width="0.2">Fitting</text>
<path d="M458.10,219.20 V233.80 M460.90,219.20 V233.80" stroke="#a070ff" stroke-width="1.4"/>
<rect x="456.90" y="224.10" width="5.2" height="4.8" fill="#0000ff"/>
<path d="M491.10,189.20 V203.80 M493.90,189.20 V203.80" stroke="#a070ff" stroke-width="1.4"/>
<rect x="489.90" y="194.10" width="5.2" height="4.8" fill="#0000ff"/>
<path d="M523.90,166.00 V180.60 M526.70,166.00 V180.60" stroke="#a070ff" stroke-width="1.4"/>
<rect x="522.70" y="170.90" width="5.2" height="4.8" fill="#0000ff"/>
<path d="M574.80,121.70 V136.30 M577.60,121.70 V136.30" stroke="#a070ff" stroke-width="1.4"/>
<rect x="573.60" y="126.60" width="5.2" height="4.8" fill="#0000ff"/>
<path d="M602.30,97.80 V112.40 M605.10,97.80 V112.40" stroke="#a070ff" stroke-width="1.4"/>
<rect x="601.10" y="102.70" width="5.2" height="4.8" fill="#0000ff"/>
<path d="M637.50,72.10 V86.70 M640.30,72.10 V86.70" stroke="#a070ff" stroke-width="1.4"/>
<rect x="636.30" y="77.00" width="5.2" height="4.8" fill="#0000ff"/>
<path d="M459.53,225.58 L638.97,78.41" stroke="#ff2a2a" stroke-width="1.4"/>
<text x="493" y="230.5" font-family="Liberation Serif"  font-size="13.5" fill="#2a2aff" stroke="#2a2aff" stroke-width="0.2">y = 57.068(±0.796)*x+0.075(±0.882)</text>
<text x="493.3" y="249.0" font-family="Liberation Serif"  font-size="13.5" fill="#2a2aff" stroke="#2a2aff" stroke-width="0.2">R<tspan font-size="8.8" dy="-3.2">2</tspan><tspan dy="3.2"> = 0.9990</tspan></text>
</svg></div></div>
</body></html>
